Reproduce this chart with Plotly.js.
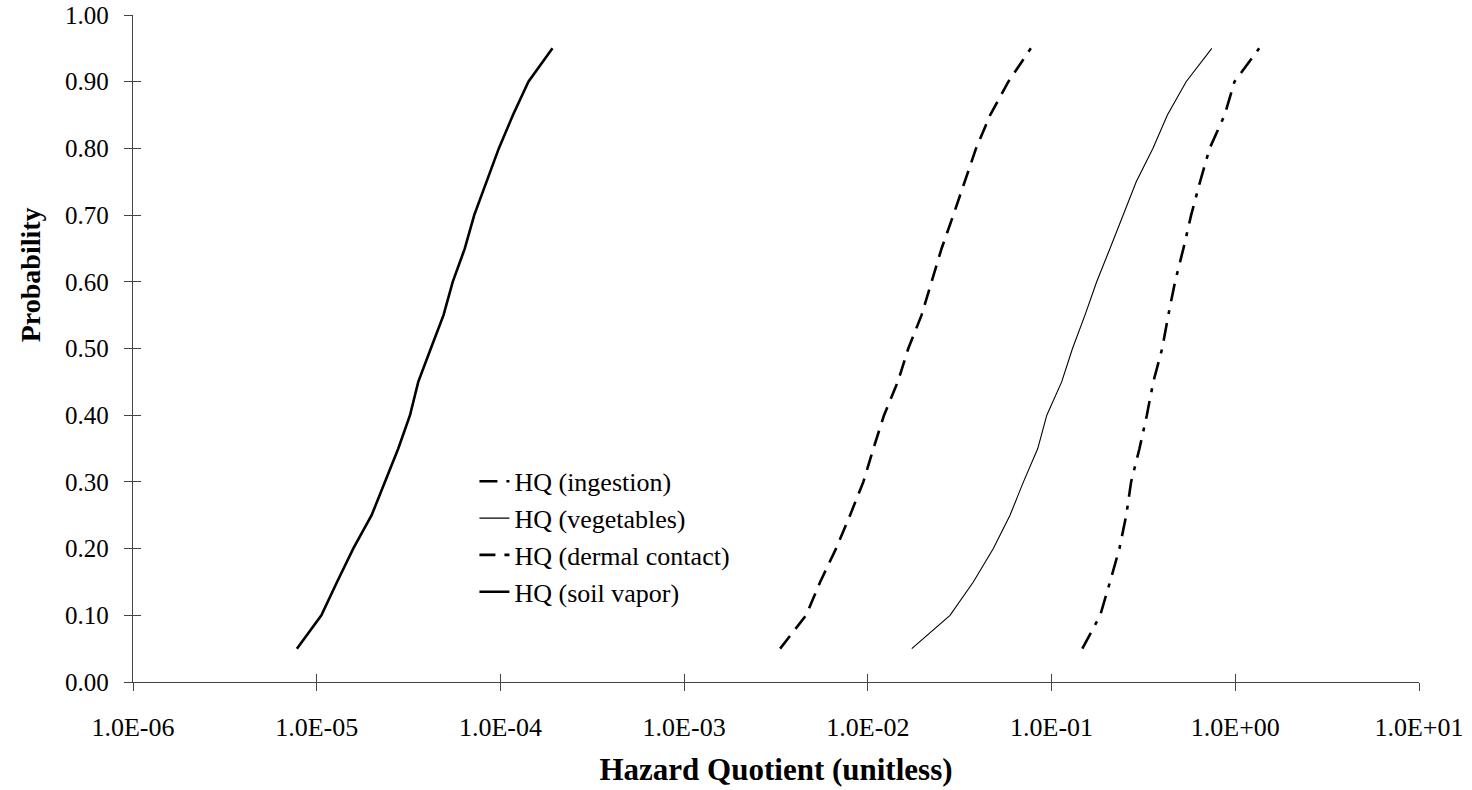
<!DOCTYPE html>
<html>
<head>
<meta charset="utf-8">
<script src="https://cdn.plot.ly/plotly-3.0.1.min.js"></script>
<style>
  html, body { margin: 0; padding: 0; background: #ffffff; }
  #chart { width: 1472px; height: 790px; }
</style>
</head>
<body>
<div id="chart"></div>
<script>
// Cumulative probability levels
const probability = [0.05, 0.10, 0.15, 0.20, 0.25, 0.30, 0.35, 0.40, 0.45, 0.50,
                     0.55, 0.60, 0.65, 0.70, 0.75, 0.80, 0.85, 0.90, 0.95];

// Hazard quotient values (unitless)
const hqIngestion = [0.147, 0.184, 0.208, 0.234, 0.255, 0.271, 0.301, 0.330, 0.358, 0.400,
                     0.432, 0.470, 0.522, 0.575, 0.643, 0.725, 0.875, 0.99, 1.349];
const hqVegetables = [0.01734, 0.0280, 0.0375, 0.0482, 0.0594, 0.0703, 0.0841, 0.0942, 0.1135, 0.130,
                      0.152, 0.176, 0.208, 0.246, 0.289, 0.356, 0.427, 0.540, 0.745];
const hqDermal = [0.00333, 0.00461, 0.0055, 0.00671, 0.0080, 0.00945, 0.01072, 0.01225, 0.01455, 0.0166,
                  0.0196, 0.0223, 0.0252, 0.0292, 0.0338, 0.0388, 0.0463, 0.0582, 0.0771];
const hqSoilVapor = [7.8e-6, 1.06e-5, 1.29e-5, 1.58e-5, 1.99e-5, 2.36e-5, 2.78e-5, 3.22e-5, 3.57e-5, 4.18e-5,
                     4.9e-5, 5.5e-5, 6.4e-5, 7.2e-5, 8.4e-5, 9.8e-5, 1.17e-4, 1.42e-4, 1.92e-4];

const seriesNames = ["HQ (ingestion)", "HQ (vegetables)", "HQ (dermal contact)", "HQ (soil vapor)"];

const xTickVals = [1e-6, 1e-5, 1e-4, 1e-3, 1e-2, 1e-1, 1e0, 1e1];
const xTickText = ["1.0E-06", "1.0E-05", "1.0E-04", "1.0E-03", "1.0E-02", "1.0E-01", "1.0E+00", "1.0E+01"];
const yTickVals = [0, 0.1, 0.2, 0.3, 0.4, 0.5, 0.6, 0.7, 0.8, 0.9, 1.0];

const xTitle = 'Hazard Quotient (unitless)';
const yTitle = 'Probability';

const FONT = '"Liberation Serif", "Times New Roman", Times, serif';
const AXIS_COLOR = '#444444';

const traces = [
  { x: hqIngestion, y: probability, name: seriesNames[0], type: 'scatter', mode: 'lines',
    line: { color: '#000000', width: 2.6, dash: '18px,9px,4px,9px' } },
  { x: hqVegetables, y: probability, name: seriesNames[1], type: 'scatter', mode: 'lines',
    line: { color: '#000000', width: 1.1 } },
  { x: hqDermal, y: probability, name: seriesNames[2], type: 'scatter', mode: 'lines',
    line: { color: '#000000', width: 2.6, dash: '16px,9px' } },
  { x: hqSoilVapor, y: probability, name: seriesNames[3], type: 'scatter', mode: 'lines',
    line: { color: '#000000', width: 2.6 } },
  // empty helper trace so the inside-tick overlay axes are drawn
  { x: [], y: [], xaxis: 'x2', yaxis: 'y2', type: 'scatter', mode: 'lines', showlegend: false, hoverinfo: 'skip' }
];

const layout = {
  width: 1472,
  height: 790,
  paper_bgcolor: '#ffffff',
  plot_bgcolor: '#ffffff',
  margin: { l: 133, r: 53, t: 15, b: 108 },
  font: { family: FONT, color: '#000000', size: 26 },
  showlegend: true,
  legend: {
    x: 0.2655, y: 0.336, xanchor: 'left', yanchor: 'top',
    bgcolor: 'rgba(0,0,0,0)', borderwidth: 0,
    font: { family: FONT, size: 26, color: '#000000' },
    tracegroupgap: 0, traceorder: 'normal'
  },
  xaxis: {
    type: 'log', range: [-6, 1],
    tickmode: 'array', tickvals: xTickVals, ticktext: xTickText,
    ticks: 'outside', ticklen: 8, tickwidth: 1, tickcolor: AXIS_COLOR,
    showline: true, linecolor: AXIS_COLOR, linewidth: 1.2,
    showgrid: false, zeroline: false, mirror: false,
    tickfont: { family: FONT, size: 26, color: '#000000' },
    ticklabelstandoff: 14,
    title: { text: '<b>' + xTitle + '</b>', font: { family: FONT, size: 31, color: '#000000' }, standoff: 16 }
  },
  yaxis: {
    range: [0, 1],
    tickmode: 'array', tickvals: yTickVals, tickformat: '.2f',
    ticks: 'outside', ticklen: 8, tickwidth: 1, tickcolor: AXIS_COLOR,
    showline: true, linecolor: AXIS_COLOR, linewidth: 1.2,
    showgrid: false, zeroline: false, mirror: false,
    tickfont: { family: FONT, size: 25, color: '#000000' },
    ticklabelstandoff: 10,
    title: { text: '' }
  },
  xaxis2: {
    type: 'log', range: [-6, 1], overlaying: 'x', anchor: 'y2', side: 'bottom',
    tickmode: 'array', tickvals: xTickVals, showticklabels: false,
    ticks: 'inside', ticklen: 8, tickwidth: 1, tickcolor: AXIS_COLOR,
    showline: false, showgrid: false, zeroline: false
  },
  yaxis2: {
    range: [0, 1], overlaying: 'y', anchor: 'x2', side: 'left',
    tickmode: 'array', tickvals: yTickVals, showticklabels: false,
    ticks: 'inside', ticklen: 8, tickwidth: 1, tickcolor: AXIS_COLOR,
    showline: false, showgrid: false, zeroline: false
  },
  annotations: [
    { text: '<b>' + yTitle + '</b>', xref: 'paper', yref: 'paper',
      x: -0.080, y: 0.61, xanchor: 'center', yanchor: 'middle',
      textangle: -90, showarrow: false,
      font: { family: FONT, size: 28, color: '#000000' } }
  ]
};

Plotly.newPlot('chart', traces, layout, { displayModeBar: false, staticPlot: true });
</script>
</body>
</html>
